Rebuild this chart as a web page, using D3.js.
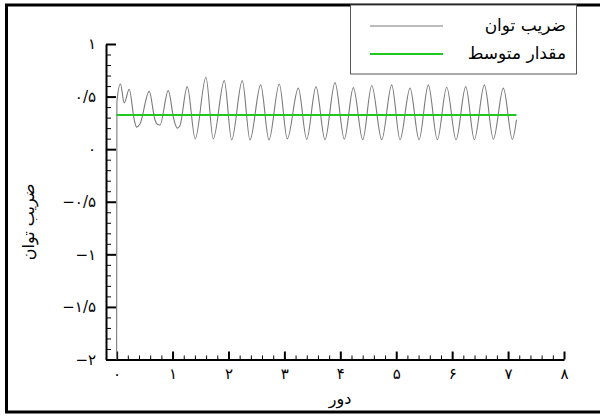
<!DOCTYPE html>
<html>
<head>
<meta charset="UTF-8">
<title>ضریب توان</title>
<script src="https://cdn.jsdelivr.net/npm/d3@7/dist/d3.min.js"></script>
<style>
body { margin: 0; background: #fff; }
svg text { font-family: "DejaVu Sans", sans-serif; fill: #000; }
.axis path, .axis line { stroke: #000; }
</style>
</head>
<body>
<svg id="chart" width="600" height="416"></svg>
<script>
// series: power coefficient vs. revolution
var powerX = [0, 0.005, 0.068, 0.136, 0.225, 0.315, 0.358, 0.417, 0.583, 0.685, 0.72, 0.775, 0.923,
  1.025, 1.084, 1.13, 1.263, 1.406, 1.597, 1.728, 1.925, 2.057, 2.247, 2.385, 2.576, 2.724, 2.909,
  3.052, 3.249, 3.399, 3.565, 3.726, 3.905, 4.072, 4.233, 4.401, 4.562, 4.741, 4.919, 5.068, 5.247,
  5.408, 5.574, 5.735, 5.903, 6.07, 6.243, 6.397, 6.576, 6.737, 6.916, 7.077, 7.15];
var powerY = [-2, 0.45, 0.62, 0.44, 0.57, 0.28, 0.21, 0.24, 0.55, 0.28, 0.24, 0.23, 0.557,
  0.28, 0.20, 0.22, 0.595, 0.098, 0.684, 0.098, 0.652, 0.088, 0.652, 0.088, 0.611, 0.088, 0.62,
  0.098, 0.58, 0.093, 0.595, 0.09, 0.633, 0.095, 0.585, 0.09, 0.605, 0.09, 0.611, 0.09, 0.58,
  0.09, 0.611, 0.09, 0.589, 0.09, 0.595, 0.09, 0.611, 0.095, 0.58, 0.093, 0.28];
var meanValue = 0.326;
var meanRange = [0, 7.15];

var xTicks = [0, 1, 2, 3, 4, 5, 6, 7, 8];
var xTickLabels = ["۰", "۱", "۲", "۳", "۴", "۵", "۶", "۷", "۸"];
var yTicks = [1, 0.5, 0, -0.5, -1, -1.5, -2];
var yTickLabels = ["۱", "۰/۵", "۰", "−۰/۵", "−۱", "−۱/۵", "−۲"];

var legendLabels = ["ضریب توان", "مقدار متوسط"];
var xTitle = "دور";
var yTitle = "ضریب توان";

var svg = d3.select("#chart");

// outer frame
svg.append("rect").attr("x", 6.5).attr("y", 5).attr("width", 700).attr("height", 407)
   .attr("fill", "none").attr("stroke", "#000").attr("stroke-width", 3);

var x = d3.scaleLinear().domain([-0.19, 8]).range([106, 564]);
var y = d3.scaleLinear().domain([-2, 1]).range([359.5, 44]);

// minor ticks
var xMinor = d3.range(0, 8.001, 0.2).filter(function(d) { return Math.abs(d - Math.round(d)) > 1e-6; });
var yMinor = d3.range(-2, 1.001, 0.1).filter(function(d) { return Math.abs(d * 2 - Math.round(d * 2)) > 1e-6; });

svg.append("g").attr("class", "axis").attr("transform", "translate(0,359.5)")
   .call(d3.axisBottom(x).tickValues(xMinor).tickSizeInner(-4).tickSizeOuter(0).tickFormat(""))
   .call(function(g) { g.select(".domain").remove(); g.selectAll("line").attr("stroke-width", 1); });
svg.append("g").attr("class", "axis").attr("transform", "translate(106,0)")
   .call(d3.axisLeft(y).tickValues(yMinor).tickSizeInner(-5).tickSizeOuter(0).tickFormat(""))
   .call(function(g) { g.select(".domain").remove(); g.selectAll("line").attr("stroke-width", 1); });

// major axes
var xAxis = svg.append("g").attr("class", "axis").attr("transform", "translate(0,359.5)")
   .call(d3.axisBottom(x).tickValues(xTicks).tickSizeInner(-8).tickSizeOuter(0).tickPadding(9)
         .tickFormat(function(d, i) { return xTickLabels[i]; }));
xAxis.select(".domain").attr("stroke-width", 2);
xAxis.selectAll("line").attr("stroke-width", 2);
xAxis.selectAll("text").attr("font-size", 15).attr("direction", "ltr");

var yAxis = svg.append("g").attr("class", "axis").attr("transform", "translate(106,0)")
   .call(d3.axisLeft(y).tickValues(yTicks).tickSizeInner(-10).tickSizeOuter(0).tickPadding(10)
         .tickFormat(function(d, i) { return yTickLabels[i]; }));
yAxis.select(".domain").attr("stroke-width", 2);
yAxis.selectAll("line").attr("stroke-width", 2);
yAxis.selectAll("text").attr("font-size", 15).attr("direction", "ltr");

// series
var powerData = powerX.map(function(d, i) { return {x: d, y: powerY[i]}; });
var line = d3.line().x(function(d) { return x(d.x); }).y(function(d) { return y(d.y); })
   .curve(d3.curveMonotoneX);
svg.append("path").attr("d", line(powerData))
   .attr("fill", "none").attr("stroke", "#7a7a7a").attr("stroke-width", 1.1);

svg.append("line").attr("x1", x(meanRange[0])).attr("x2", x(meanRange[1]))
   .attr("y1", y(meanValue)).attr("y2", y(meanValue))
   .attr("stroke", "#1ec81e").attr("stroke-width", 2);

// titles
svg.append("text").attr("x", 340).attr("y", 404).attr("text-anchor", "middle")
   .attr("font-size", 16).text(xTitle);
svg.append("text").attr("transform", "translate(34,222) rotate(-90)").attr("text-anchor", "middle")
   .attr("font-size", 16).text(yTitle);

// legend
var legend = svg.append("g");
legend.append("rect").attr("x", 350.5).attr("y", 5).attr("width", 226).attr("height", 69)
   .attr("fill", "#fff").attr("stroke", "#555").attr("stroke-width", 1);
var legendColors = ["#a6a6a6", "#1ec81e"];
var legendWidths = [1.5, 2];
legendLabels.forEach(function(label, i) {
  var ly = 26 + i * 28;
  legend.append("line").attr("x1", 370).attr("x2", 443).attr("y1", ly).attr("y2", ly)
     .attr("stroke", legendColors[i]).attr("stroke-width", legendWidths[i]);
  legend.append("text").attr("x", 566).attr("y", ly + 5).attr("text-anchor", "end")
     .attr("font-size", 17).text(label);
});
</script>
</body>
</html>
